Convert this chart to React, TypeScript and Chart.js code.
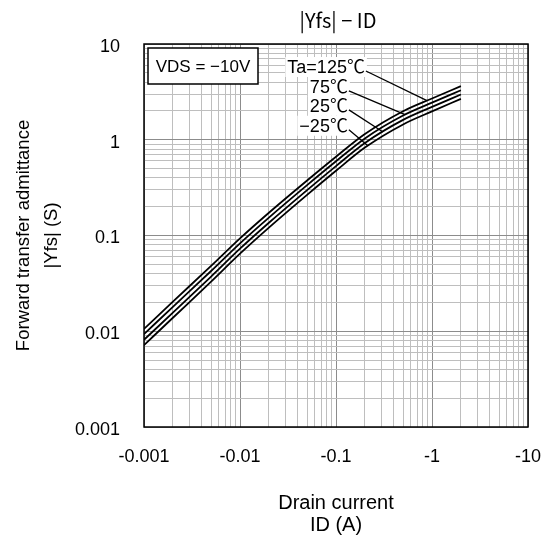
import React, { useEffect, useRef } from 'react';
import { Chart, registerables } from 'chart.js';

Chart.register(...registerables);

// ---- data ----
const currents = [0.001, 0.002, 0.005, 0.01, 0.02, 0.05, 0.1, 0.2, 0.5, 1, 2];
const yfs125 = [0.01059, 0.02037, 0.04808, 0.0933, 0.173, 0.3758, 0.6653, 1.148, 1.986, 2.698, 3.631];
const yfs75 = [0.00933, 0.01799, 0.04256, 0.08279, 0.1538, 0.3357, 0.5957, 1.033, 1.791, 2.438, 3.289];
const yfs25 = [0.00813, 0.01567, 0.03724, 0.07278, 0.1358, 0.2979, 0.5309, 0.9247, 1.611, 2.203, 2.972];
const yfsM25 = [0.00716, 0.01384, 0.03296, 0.06457, 0.1208, 0.2655, 0.4742, 0.8279, 1.445, 1.977, 2.673];
const seriesNames = ['Ta=125℃', '75℃', '25℃', '−25℃'];

const xTickValues = [0.001, 0.01, 0.1, 1, 10];
const xTickLabels = ['-0.001', '-0.01', '-0.1', '-1', '-10'];
const yTickValues = [0.001, 0.01, 0.1, 1, 10];
const yTickLabels = ['0.001', '0.01', '0.1', '1', '10'];
const minorSteps = [2, 3, 4, 5, 6, 7, 8, 9];

const chartTitle = '|Yfs| − ID';
const conditionText = 'VDS = −10V';
const xTitle = ['Drain current', 'ID (A)'];
const yTitle = ['Forward transfer admittance', '|Yfs| (S)'];

// label anchors (right edge / middle) and leader targets, in data units
const labelAnchorX = [0.2, 0.133, 0.133, 0.133];
const labelAnchorY = [5.75, 3.56, 2.26, 1.4];
const leaderTargetX = [0.887, 0.524, 0.309, 0.215];

const allSeries = [yfs125, yfs75, yfs25, yfsM25];

function logInterp(xs: number[], ys: number[], x: number): number {
  const lx = Math.log10(x);
  for (let i = 0; i < xs.length - 1; i++) {
    const a = Math.log10(xs[i]);
    const b = Math.log10(xs[i + 1]);
    if (lx >= a && lx <= b) {
      const f = (lx - a) / (b - a);
      return Math.pow(10, Math.log10(ys[i]) + f * (Math.log10(ys[i + 1]) - Math.log10(ys[i])));
    }
  }
  return ys[ys.length - 1];
}

function buildGridTicks(decades: number[]) {
  const out: { value: number }[] = [];
  decades.forEach((d, i) => {
    out.push({ value: d });
    if (i < decades.length - 1) minorSteps.forEach((m) => out.push({ value: d * m }));
  });
  return out;
}

function isMajor(v: number, majors: number[]) {
  return majors.some((m) => Math.abs(v - m) / m < 1e-6);
}

const annotationPlugin = {
  id: 'annotationPlugin',
  afterDraw(chart: any) {
    const { ctx, chartArea: ca } = chart;
    const xs = chart.scales.x;
    const ys = chart.scales.y;
    ctx.save();
    // frame
    ctx.strokeStyle = '#000';
    ctx.lineWidth = 1.5;
    ctx.strokeRect(ca.left, ca.top, ca.right - ca.left, ca.bottom - ca.top);

    // title
    ctx.fillStyle = '#000';
    ctx.font = '20px "Noto Sans CJK JP"';
    ctx.textAlign = 'center';
    ctx.textBaseline = 'middle';
    ctx.fillText(chartTitle, (ca.left + ca.right) / 2 + 2, 20);

    // condition box
    const bx = ca.left + 4;
    const by = ca.top + 4;
    const bw = 110;
    const bh = 36;
    ctx.fillStyle = '#fff';
    ctx.fillRect(bx, by, bw, bh);
    ctx.strokeStyle = '#000';
    ctx.lineWidth = 1.5;
    ctx.strokeRect(bx, by, bw, bh);
    ctx.fillStyle = '#000';
    ctx.font = '17px "Liberation Sans"';
    ctx.textAlign = 'center';
    ctx.fillText(conditionText, bx + bw / 2, by + bh / 2 + 1);

    // series labels with leaders
    ctx.font = '18px "Liberation Sans", "Noto Sans CJK JP"';
    seriesNames.forEach((name, i) => {
      const rx = xs.getPixelForValue(labelAnchorX[i]);
      const cy = ys.getPixelForValue(labelAnchorY[i]);
      const w = ctx.measureText(name).width;
      ctx.fillStyle = '#fff';
      ctx.fillRect(rx - w - 2, cy - 10, w + 4, 20);
      ctx.fillStyle = '#000';
      ctx.textAlign = 'right';
      ctx.textBaseline = 'middle';
      ctx.fillText(name, rx, cy + 1);
      const tx = leaderTargetX[i];
      const ty = logInterp(currents, allSeries[i], tx);
      ctx.beginPath();
      ctx.moveTo(rx + 1, cy + 4);
      ctx.lineTo(xs.getPixelForValue(tx), ys.getPixelForValue(ty));
      ctx.strokeStyle = '#000';
      ctx.lineWidth = 1.3;
      ctx.stroke();
    });
    ctx.restore();
  },
};

export default function App() {
  const ref = useRef<HTMLCanvasElement | null>(null);

  useEffect(() => {
    document.body.style.margin = '0';
    const canvas = ref.current;
    if (!canvas) return;
    Chart.defaults.font.family = '"Liberation Sans", Arial, sans-serif';
    Chart.defaults.color = '#000';

    const chart = new Chart(canvas, {
      type: 'line',
      data: {
        datasets: allSeries.map((s, i) => ({
          label: seriesNames[i],
          data: currents.map((c, j) => ({ x: c, y: s[j] })),
          borderColor: '#000',
          borderWidth: 1.8,
          pointRadius: 0,
          fill: false,
          cubicInterpolationMode: 'monotone' as const,
        })),
      },
      options: {
        responsive: false,
        animation: false,
        events: [],
        layout: { padding: { top: 44, right: 24, left: 0, bottom: 0 } },
        plugins: {
          legend: { display: false },
          tooltip: { enabled: false },
          title: { display: false },
        },
        scales: {
          x: {
            type: 'logarithmic',
            min: 0.001,
            max: 10,
            afterBuildTicks: (scale: any) => {
              scale.ticks = buildGridTicks(xTickValues);
            },
            afterFit: (scale: any) => {
              scale.height = 111;
              scale.paddingLeft = 0;
              scale.paddingRight = 0;
            },
            border: { display: false },
            grid: {
              drawTicks: false,
              color: (c: any) => (c.tick && isMajor(c.tick.value, xTickValues) ? '#8c8c8c' : '#bebebe'),
              lineWidth: 1,
            },
            ticks: {
              autoSkip: false,
              maxRotation: 0,
              padding: 19,
              font: { size: 18 },
              callback: (v: any) => {
                const idx = xTickValues.findIndex((m) => Math.abs(Number(v) - m) / m < 1e-6);
                return idx >= 0 ? xTickLabels[idx] : '';
              },
            },
            title: {
              display: true,
              text: xTitle,
              font: { size: 20, lineHeight: 1.1 },
              padding: { top: 0, bottom: 2 },
            },
          },
          y: {
            type: 'logarithmic',
            min: 0.001,
            max: 10,
            afterBuildTicks: (scale: any) => {
              scale.ticks = buildGridTicks(yTickValues);
            },
            afterFit: (scale: any) => {
              scale.width = 144;
              scale.paddingTop = 0;
              scale.paddingBottom = 0;
            },
            border: { display: false },
            grid: {
              drawTicks: false,
              color: (c: any) => (c.tick && isMajor(c.tick.value, yTickValues) ? '#8c8c8c' : '#bebebe'),
              lineWidth: 1,
            },
            ticks: {
              autoSkip: false,
              padding: 24,
              labelOffset: 3,
              font: { size: 18 },
              callback: (v: any) => {
                const idx = yTickValues.findIndex((m) => Math.abs(Number(v) - m) / m < 1e-6);
                return idx >= 0 ? yTickLabels[idx] : '';
              },
            },
            title: {
              display: true,
              text: yTitle,
              font: { size: 18.5, lineHeight: 1.5 },
              padding: { top: 10, bottom: 0 },
            },
          },
        },
      },
      plugins: [annotationPlugin],
    });
    return () => chart.destroy();
  }, []);

  return (
    <div style={{ width: 552, height: 538, background: '#fff' }}>
      <canvas ref={ref} width={552} height={538} style={{ display: 'block' }} />
    </div>
  );
}
